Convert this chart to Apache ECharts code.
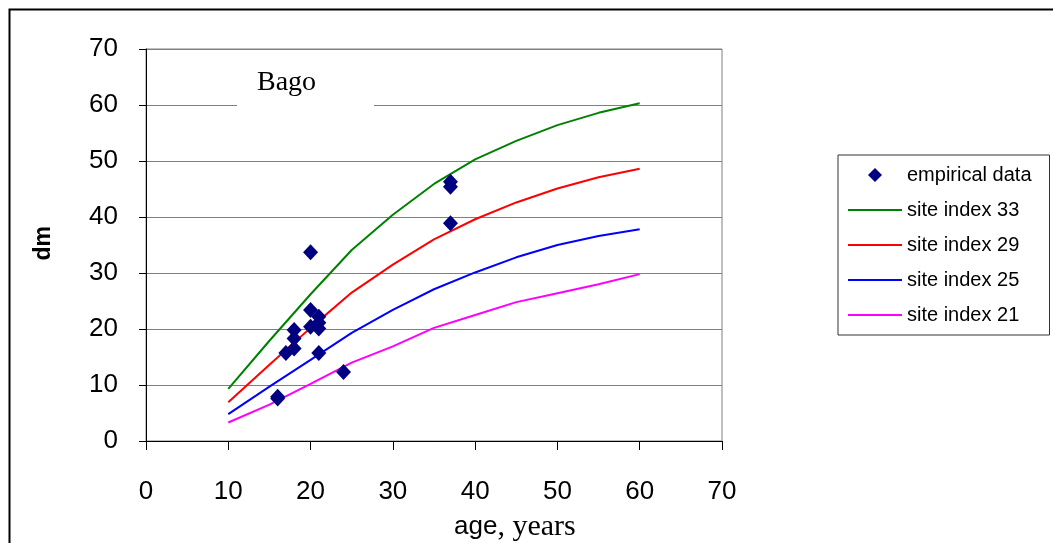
<!DOCTYPE html>
<html><head><meta charset="utf-8">
<script src="https://cdn.jsdelivr.net/npm/echarts@6/dist/echarts.min.js"></script>
<style>html,body{margin:0;padding:0;background:#fff}#c{width:1053px;height:543px}</style>
</head><body><div id="c"></div>
<script>
// ---- data ----
const curveAges = [10, 15, 20, 25, 30, 35, 40, 45, 50, 55, 60];
const si33 = [9.3, 17.9, 26.2, 34.1, 40.4, 45.9, 50.3, 53.6, 56.4, 58.6, 60.3];
const si29 = [6.9, 13.6, 20.2, 26.5, 31.5, 36.0, 39.6, 42.6, 45.1, 47.1, 48.6];
const si25 = [4.8, 9.7, 14.5, 19.3, 23.4, 27.1, 30.1, 32.8, 35.0, 36.6, 37.8];
const si21 = [3.3, 6.5, 10.2, 14.0, 16.9, 20.2, 22.5, 24.8, 26.4, 28.0, 29.8];
const empAge = [16, 16, 17, 18, 18, 18, 20, 20, 20, 21, 21, 21, 21, 24, 37, 37, 37];
const empDm = [7.9, 7.6, 15.7, 16.5, 18.3, 19.8, 33.7, 23.4, 20.4, 22.2, 21.1, 20.1, 15.7, 12.3, 46.3, 45.4, 38.9];
const seriesNames = ['empirical data', 'site index 33', 'site index 29', 'site index 25', 'site index 21'];
const chartLabel = 'Bago';
const xName = ['age', ', years'];
const yName = 'dm';

const pair = (xs, ys) => xs.map((x, i) => [x, ys[i]]);
const lineColors = ['#008000', '#FF0000', '#0000FF', '#FF00FF'];
const curves = [si33, si29, si25, si21];
const lineIcon = 'path://M0,0 L54,0 L54,2 L0,2 Z';
const diamondIcon = 'path://M7,0 L14,7 L7,14 L0,7 Z';

const chart = echarts.init(document.getElementById('c'), null, {renderer: 'canvas'});
const option = {
  animation: false,
  backgroundColor: '#fff',
  grid: {left: 146, right: 331, top: 49, bottom: 102, show: true, borderColor: '#808080', borderWidth: 1},
  xAxis: {
    type: 'value', min: 0, max: 70, interval: 10,
    axisLine: {show: true, onZero: false, lineStyle: {color: '#000', width: 1}},
    axisTick: {show: true, length: 9, lineStyle: {color: '#000'}},
    axisLabel: {margin: 38, color: '#000', fontFamily: 'Liberation Sans, Arial', fontSize: 26},
    splitLine: {show: false}
  },
  yAxis: {
    type: 'value', min: 0, max: 70, interval: 10,
    axisLine: {show: true, onZero: false, lineStyle: {color: '#000', width: 1}},
    axisTick: {show: true, length: 7, lineStyle: {color: '#000'}},
    axisLabel: {margin: 28, color: '#000', fontFamily: 'Liberation Sans, Arial', fontSize: 26},
    splitLine: {show: true, lineStyle: {color: '#808080', width: 1}}
  },
  legend: {
    orient: 'vertical', left: 838, top: 155,
    padding: [10, 18, 10, 10],
    itemGap: 15, itemWidth: 54, itemHeight: 14,
    symbolKeepAspect: true,
    borderColor: '#333', borderWidth: 1,
    textStyle: {color: '#000', fontFamily: 'Liberation Sans, Arial', fontSize: 20},
    data: [
      {name: seriesNames[0], icon: diamondIcon},
      {name: seriesNames[1], icon: lineIcon},
      {name: seriesNames[2], icon: lineIcon},
      {name: seriesNames[3], icon: lineIcon},
      {name: seriesNames[4], icon: lineIcon}
    ]
  },
  graphic: [
    {type: 'rect', left: 7, top: 7, shape: {width: 1200, height: 700}, style: {fill: 'none', stroke: '#000', lineWidth: 2}, z: 100, silent: true},
    {type: 'rect', left: 237, top: 62, shape: {width: 137, height: 48}, style: {fill: '#fff'}, z: 10, silent: true},
    {type: 'text', left: 257, top: 69, z: 11, style: {text: chartLabel, font: '28px "Liberation Serif", "Times New Roman"', fill: '#000'}},
    {type: 'text', left: 32, top: 226, rotation: Math.PI / 2, z: 11,
      style: {text: yName, font: 'bold 23px "Liberation Sans", Arial', fill: '#000'}},
    {type: 'text', left: 454, top: 512, z: 11,
      style: {text: '{a|' + xName[0] + '}{b|' + xName[1] + '}', rich: {
        a: {fontFamily: 'Liberation Sans, Arial', fontSize: 26, fill: '#000', color: '#000'},
        b: {fontFamily: 'Liberation Serif, Times New Roman', fontSize: 30, fill: '#000', color: '#000'}
      }}}
  ],
  series: [
    {
      name: seriesNames[0], type: 'scatter', symbol: 'diamond', symbolSize: [15, 16],
      itemStyle: {color: '#000080', opacity: 1}, data: pair(empAge, empDm), z: 5
    }
  ].concat(curves.map((c, i) => ({
    name: seriesNames[i + 1], type: 'line', data: pair(curveAges, c),
    symbol: 'none', showSymbol: false, lineStyle: {color: lineColors[i], width: 2}, itemStyle: {color: lineColors[i]}, z: 3
  })))
};
chart.setOption(option);
</script></body></html>
